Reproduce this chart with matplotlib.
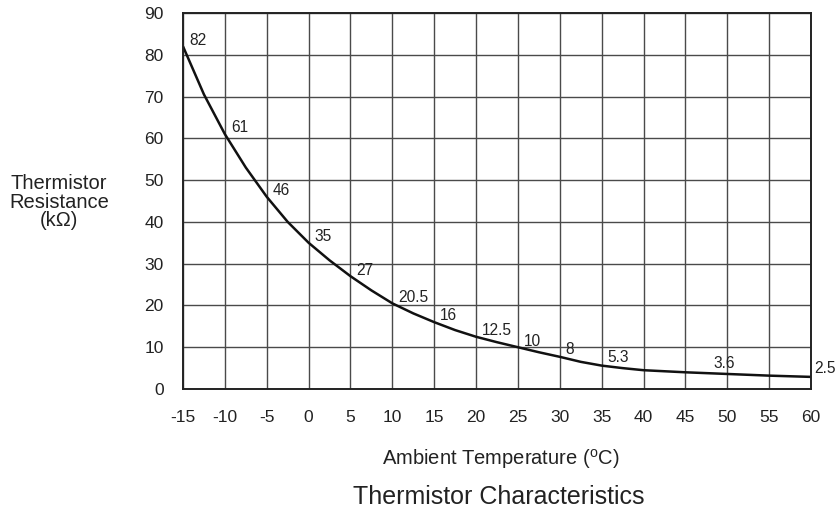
import numpy as np
import matplotlib.pyplot as plt

plt.rcParams['font.family'] = ['Liberation Sans', 'DejaVu Sans']

# curve (deg C, kOhm), incl. a few in-between readings
temps = [-15, -12.5, -10, -7.5, -5, -2.5, 0, 2.5, 5, 7.5, 10, 12.5, 15, 17.5, 20,
         22.5, 25, 27.5, 30, 32.5, 35, 37.5, 40, 45, 50, 55, 60]
resist = [82, 70.5, 61, 53, 46, 40, 35, 30.8, 27, 23.6, 20.5, 18.1, 16, 14.1, 12.5,
          11.2, 10, 8.8, 7.7, 6.5, 5.6, 5.0, 4.5, 4.0, 3.6, 3.2, 2.9]

# printed labels
label_temps = [-15, -10, -5, 0, 5, 10, 15, 20, 25, 30, 35, 50, 60]
label_vals = [82, 61, 46, 35, 27, 20.5, 16, 12.5, 10, 8, 5.3, 3.6, 2.9]
label_text = ['82', '61', '46', '35', '27', '20.5', '16', '12.5', '10', '8', '5.3', '3.6', '2.5']

xticks = list(range(-15, 65, 5))
yticks = list(range(0, 100, 10))

fig = plt.figure(figsize=(8.38, 5.13), dpi=100)
ax = fig.add_axes([0.2184, 0.2417, 0.7494, 0.733])

ax.plot(temps, resist, color='#111111', lw=1.8, solid_capstyle='butt')

for t, v, s in zip(label_temps, label_vals, label_text):
    if t == 50:
        ax.annotate(s, (t, v), xytext=(-2, 4), textcoords='offset points',
                    ha='center', va='baseline', fontsize=11.2, color='#222222')
    elif t == 60:
        ax.annotate(s, (t, v), xytext=(2.5, 3), textcoords='offset points',
                    ha='left', va='baseline', fontsize=11.2, color='#222222',
                    annotation_clip=False)
    elif t == 35:
        ax.annotate(s, (t, v), xytext=(4.3, 3.5), textcoords='offset points',
                    ha='left', va='baseline', fontsize=11.2, color='#222222')
    else:
        ax.annotate(s, (t, v), xytext=(4.3, 1.2), textcoords='offset points',
                    ha='left', va='baseline', fontsize=11.2, color='#222222')

ax.set_xlim(-15, 60)
ax.set_ylim(0, 90)
ax.set_xticks(xticks)
ax.set_yticks(yticks)
ax.set_xticklabels([str(t) for t in xticks])
ax.grid(True, color='#4a4a4a', lw=1.0)
ax.tick_params(length=0, labelsize=12.5, colors='#222222')
ax.tick_params(axis='x', pad=15)
ax.tick_params(axis='y', pad=14)
for sp in ax.spines.values():
    sp.set_color('#222222')
    sp.set_linewidth(1.4)

fig.text(0.0704, 0.606, 'Thermistor\nResistance\n(k\u03a9)', ha='center', va='center',
         fontsize=14.5, color='#222222', linespacing=0.98)
fig.text(0.598, 0.106, 'Ambient Temperature ($\\mathregular{^o}$C)', ha='center', va='center',
         fontsize=14.5, color='#222222')
fig.text(0.595, 0.031, 'Thermistor Characteristics', ha='center', va='center',
         fontsize=18, color='#222222')

fig.savefig('out.png', dpi=100)
